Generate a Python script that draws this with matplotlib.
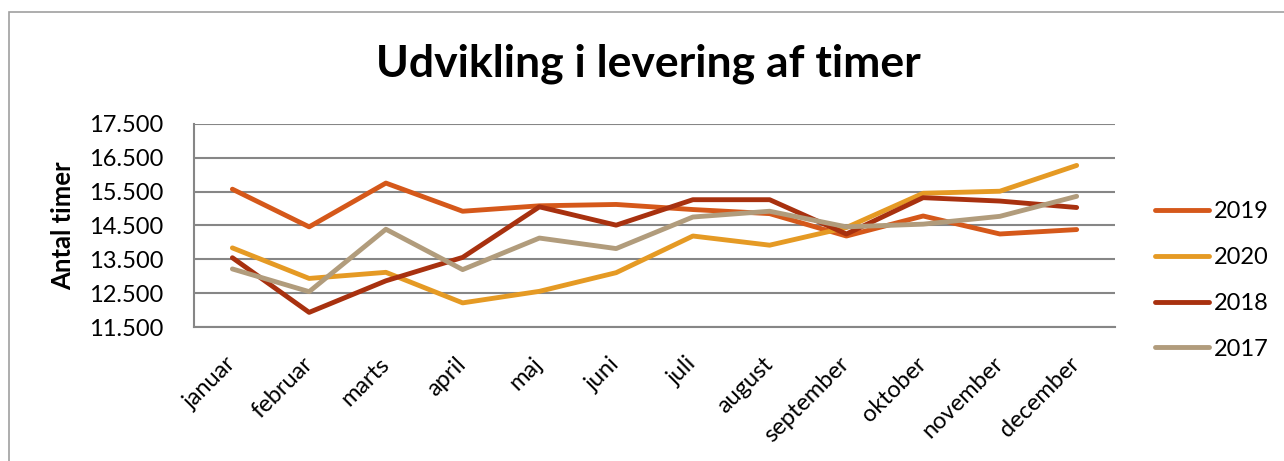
import matplotlib
matplotlib.use('Agg')
import matplotlib.pyplot as plt
from matplotlib.patches import Rectangle

plt.rcParams['font.family'] = ['Lato', 'DejaVu Sans']

months = ['januar', 'februar', 'marts', 'april', 'maj', 'juni', 'juli',
          'august', 'september', 'oktober', 'november', 'december']

# Antal timer pr. måned
y2019 = [15570, 14460, 15750, 14920, 15080, 15120, 14970, 14850, 14190, 14780, 14250, 14380]
y2020 = [13840, 12940, 13120, 12220, 12560, 13110, 14190, 13920, 14440, 15450, 15510, 16270]
y2018 = [13550, 11940, 12870, 13560, 15050, 14510, 15260, 15260, 14250, 15320, 15220, 15030]
y2017 = [13220, 12550, 14390, 13200, 14130, 13820, 14750, 14920, 14460, 14540, 14770, 15360]

series = [('2019', y2019, '#D5581A'),
          ('2020', y2020, '#E59A24'),
          ('2018', y2018, '#A8310F'),
          ('2017', y2017, '#B19C7C')]

yticks = [11500, 12500, 13500, 14500, 15500, 16500, 17500]

fig = plt.figure(figsize=(12.84, 4.61), dpi=100)
ax = fig.add_axes([0.1511, 0.29, 0.7173, 0.4417])

x = list(range(len(months)))
for name, vals, col in series:
    ax.plot(x, vals, color=col, lw=3.5, label=name, solid_capstyle='round')

ax.set_xlim(-0.5, len(months) - 0.5)
ax.set_ylim(11500, 17500)
ax.set_yticks(yticks)
ax.set_yticklabels([f'{v:,}'.replace(',', '.') for v in yticks], fontsize=17)
ax.set_xticks(x)
ax.set_xticklabels(months, rotation=45, ha='right', va='center', rotation_mode='anchor', fontsize=17)
ax.tick_params(axis='y', length=0, pad=22)
ax.tick_params(axis='x', length=0, pad=24)
ax.grid(axis='y', color='#868686', lw=1.5)
ax.set_axisbelow(True)
for s in ['top', 'right']:
    ax.spines[s].set_visible(False)
for s in ['left', 'bottom']:
    ax.spines[s].set_color('#868686')
    ax.spines[s].set_linewidth(1.5)

ax.set_ylabel('Antal timer', fontsize=18.5, fontweight='bold', labelpad=10)

fig.suptitle('Udvikling i levering af timer', fontsize=32, fontweight='bold', x=0.505, y=0.905)

ax.legend(loc='center left', bbox_to_anchor=(1.0434, 0.23), frameon=False, fontsize=17,
          handlelength=2.3, labelspacing=1.05, handletextpad=0.2, borderpad=0, borderaxespad=0)

fig.patches.append(Rectangle((9 / 1284, -0.1), 1.2, 1.1 - 12 / 461, transform=fig.transFigure,
                             fill=False, edgecolor='#A0A0A0', lw=1.2))

fig.savefig('out.png', dpi=100)
